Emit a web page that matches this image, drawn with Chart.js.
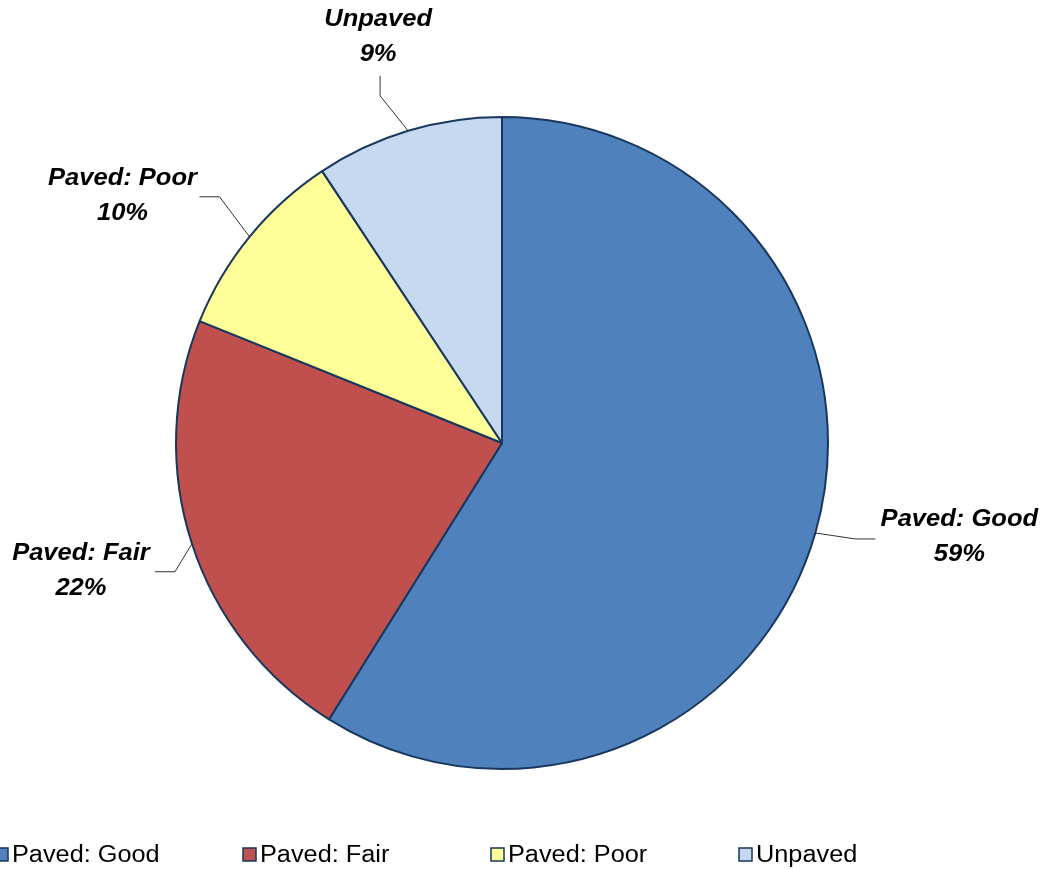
<!DOCTYPE html>
<html>
<head>
<meta charset="utf-8">
<script src="https://cdn.jsdelivr.net/npm/chart.js@4"></script>
<style>
  html, body { margin: 0; padding: 0; background: #fff; }
</style>
</head>
<body>
<canvas id="grafico" width="1045" height="869"></canvas>
<script>
// dados
const categorias = ['Paved: Good', 'Paved: Fair', 'Paved: Poor', 'Unpaved'];
const valores = [58.9, 22.2, 9.6, 9.3];
const cores = ['#4f81bd', '#c0504d', '#ffff99', '#c6d9f0'];

// posição dos rótulos em relação à borda da fatia
const rotulos = [
  { elbow: [40, 6], end: [60, 6], text: [144, -13] },
  { elbow: [-17, 28], end: [-37, 28], text: [-111, 10] },
  { elbow: [-30, -40], end: [-50, -40], text: [-127, -58] },
  { elbow: [-28, -35], end: [-28, -55], text: [-30, -111] }
];

function textoLargo(ctx, txt, x, y, sx) {
  ctx.save();
  ctx.translate(x, y);
  ctx.scale(sx, 1);
  ctx.fillText(txt, 0, 0);
  ctx.restore();
}

const labelsPlugin = {
  id: 'pieLabels',
  afterDatasetsDraw(chart) {
    const ctx = chart.ctx;
    const meta = chart.getDatasetMeta(0);
    ctx.save();
    meta.data.forEach((arc, i) => {
      const p = arc.getProps(['x', 'y', 'startAngle', 'endAngle', 'outerRadius'], true);
      const mid = (p.startAngle + p.endAngle) / 2;
      const ex = p.x + Math.cos(mid) * p.outerRadius;
      const ey = p.y + Math.sin(mid) * p.outerRadius;
      const r = rotulos[i];
      ctx.strokeStyle = '#333';
      ctx.lineWidth = 1;
      ctx.beginPath();
      ctx.moveTo(ex, ey);
      ctx.lineTo(ex + r.elbow[0], ey + r.elbow[1]);
      ctx.lineTo(ex + r.end[0], ey + r.end[1]);
      ctx.stroke();
      ctx.fillStyle = '#000';
      ctx.font = 'italic bold 23px "Liberation Sans", Arial, sans-serif';
      ctx.textAlign = 'center';
      ctx.textBaseline = 'middle';
      const tx = ex + r.text[0], ty = ey + r.text[1];
      textoLargo(ctx, chart.data.labels[i], tx, ty, 1.11);
      textoLargo(ctx, Math.round(valores[i]) + '%', tx, ty + 35, 1.11);
    });
    ctx.restore();
  }
};

const legendPlugin = {
  id: 'legendaBaixo',
  afterDraw(chart) {
    const ctx = chart.ctx;
    ctx.save();
    ctx.font = '23px "Liberation Sans", Arial, sans-serif';
    ctx.textBaseline = 'middle';
    ctx.textAlign = 'left';
    chart.data.labels.forEach((lab, i) => {
      const x = -5 + i * 248;
      const y = 855;
      ctx.fillStyle = cores[i];
      ctx.fillRect(x, y - 7, 13, 13);
      ctx.strokeStyle = '#17375e';
      ctx.lineWidth = 1.5;
      ctx.strokeRect(x, y - 7, 13, 13);
      ctx.fillStyle = '#000';
      textoLargo(ctx, lab, x + 17, y + 1, 1.1);
    });
    ctx.restore();
  }
};

const ctx1 = document.getElementById('grafico');

new Chart(ctx1, {
  type: 'pie',
  data: {
    labels: categorias,
    datasets: [{
      data: valores,
      backgroundColor: cores,
      borderColor: '#17375e',
      borderWidth: 2
    }]
  },
  options: {
    responsive: false,
    maintainAspectRatio: false,
    animation: false,
    radius: 326,
    layout: { padding: { left: 0, right: 41, top: 117, bottom: 100 } },
    plugins: {
      legend: { display: false },
      tooltip: { enabled: false }
    }
  },
  plugins: [labelsPlugin, legendPlugin]
});
</script>
</body>
</html>
